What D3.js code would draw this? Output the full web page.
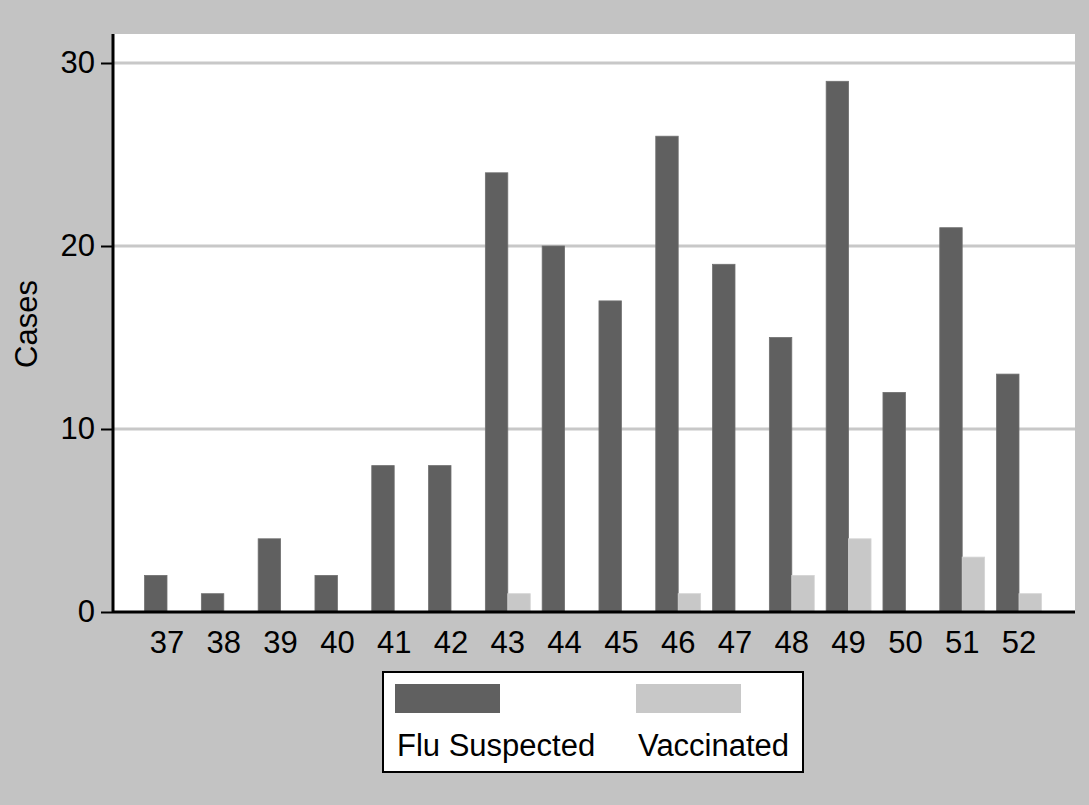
<!DOCTYPE html>
<html><head><meta charset="utf-8">
<script src="https://cdn.jsdelivr.net/npm/d3@7"></script>
<style>html,body{margin:0;padding:0;background:#c3c3c3;}svg{display:block;}</style>
</head><body><svg id="c" width="1089" height="805"></svg>
<script>
const weeks = ["37","38","39","40","41","42","43","44","45","46","47","48","49","50","51","52"];
const fluSuspected = [2,1,4,2,8,8,24,20,17,26,19,15,29,12,21,13];
const vaccinated = [0,0,0,0,0,0,1,0,0,1,0,2,4,0,3,1];
const yTicks = [0,10,20,30];
const seriesNames = ["Flu Suspected","Vaccinated"];
const seriesColors = ["#606060","#c8c8c8"];

const svg = d3.select("#c");
const font = "'Liberation Sans', Arial, Helvetica, sans-serif";
const fs = 31;
svg.append("rect").attr("width",1089).attr("height",805).attr("fill","#c3c3c3");

const plotL = 114, plotR = 1075, plotT = 34, plotB = 612;
svg.append("rect").attr("x",plotL).attr("y",plotT).attr("width",plotR-plotL).attr("height",plotB-plotT).attr("fill","#fff");

const x = d3.scaleBand().domain(weeks).range([138.6,1047.4]).paddingInner(0.21).paddingOuter(0.105);
const xs = d3.scaleBand().domain(seriesNames).range([0,x.bandwidth()]);
const y = d3.scaleLinear().domain([0,30]).range([612,63]);

// gridlines
svg.append("g").selectAll("line").data(yTicks.filter(d=>d>0)).join("line")
  .attr("x1",plotL).attr("x2",plotR).attr("y1",d=>y(d)).attr("y2",d=>y(d))
  .attr("stroke","#c8c8c8").attr("stroke-width",3);

const data = [fluSuspected, vaccinated];
data.forEach((vals,si)=>{
  svg.append("g").selectAll("rect").data(weeks.map((w,i)=>({w,v:vals[i]})).filter(d=>d.v>0)).join("rect")
    .attr("x",d=>x(d.w)+xs(seriesNames[si]))
    .attr("width",xs.bandwidth())
    .attr("y",d=>y(d.v))
    .attr("height",d=>y(0)-y(d.v))
    .attr("fill",seriesColors[si])
    .attr("stroke",si===0?"#707070":"#d4d4d4").attr("stroke-width",0.8);
});

// y axis
const yAxis = svg.append("g").attr("transform",`translate(${plotL-1},0)`)
  .call(d3.axisLeft(y).tickValues(yTicks).tickSize(12).tickPadding(6));
yAxis.select(".domain").attr("d",`M0,${plotT}V${plotB}`).attr("stroke","#000").attr("stroke-width",3);
yAxis.selectAll(".tick line").attr("stroke","#000").attr("stroke-width",2);
yAxis.selectAll(".tick text").style("font-family",font).style("font-size",fs+"px").attr("fill","#000");

// x axis
const xAxis = svg.append("g").attr("transform",`translate(0,${plotB})`)
  .call(d3.axisBottom(x).tickSize(0).tickPadding(19));
xAxis.select(".domain").attr("d",`M${plotL-1},0H${plotR}`).attr("stroke","#000").attr("stroke-width",3);
xAxis.selectAll(".tick text").style("font-family",font).style("font-size",fs+"px").attr("fill","#000");

svg.append("text").attr("transform","translate(37,324) rotate(-90)")
  .attr("text-anchor","middle").style("font-family",font).style("font-size",fs+"px").text("Cases");

// legend
const lg = svg.append("g");
lg.append("rect").attr("x",383).attr("y",672).attr("width",420).attr("height",100)
  .attr("fill","#fff").attr("stroke","#000").attr("stroke-width",2);
const legX = [395,636];
seriesNames.forEach((n,i)=>{
  lg.append("rect").attr("x",legX[i]).attr("y",684).attr("width",105).attr("height",29).attr("fill",seriesColors[i]);
  lg.append("text").attr("x",legX[i]+2).attr("y",756).style("font-family",font).style("font-size",fs+"px").text(n);
});
</script></body></html>
